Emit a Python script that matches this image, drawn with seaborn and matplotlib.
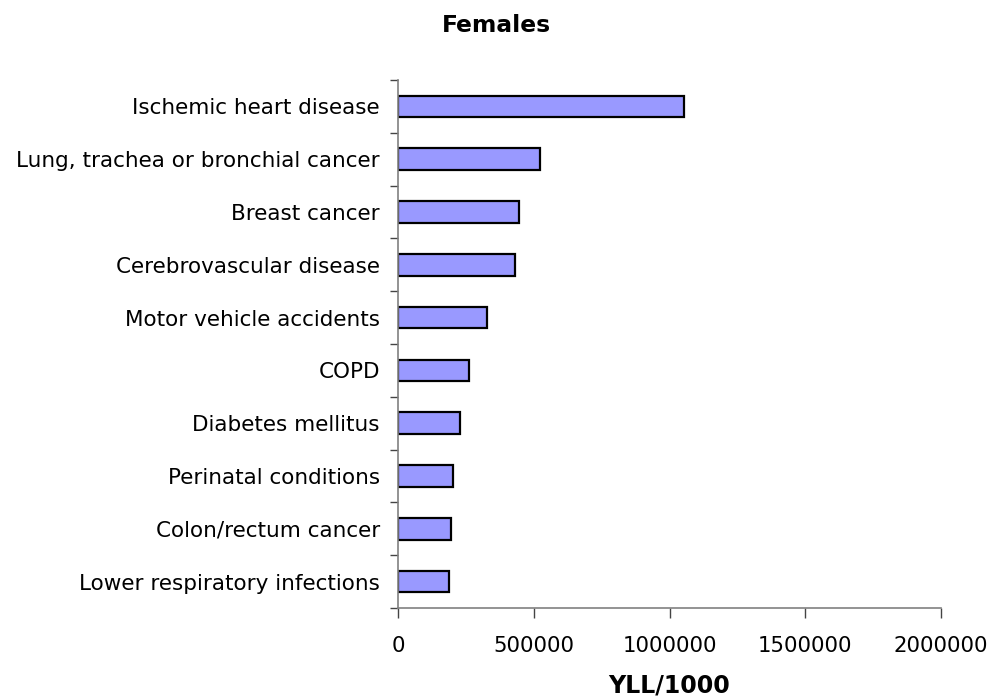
import matplotlib
matplotlib.use("Agg")
import matplotlib.pyplot as plt
import seaborn as sns
import pandas as pd
import numpy as np
from matplotlib.ticker import FixedLocator, NullFormatter

categories = [
    "Ischemic heart disease",
    "Lung, trachea or bronchial cancer",
    "Breast cancer",
    "Cerebrovascular disease",
    "Motor vehicle accidents",
    "COPD",
    "Diabetes mellitus",
    "Perinatal conditions",
    "Colon/rectum cancer",
    "Lower respiratory infections",
]
values = [1053000, 522000, 447000, 430000, 329000, 261000, 228000, 203000, 194000, 187000]
x_ticks = [0, 500000, 1000000, 1500000, 2000000]
x_tick_labels = ["0", "500000", "1000000", "1500000", "2000000"]

df = pd.DataFrame({"cause": categories, "yll": values})

sns.set_theme(style="white")
plt.rcParams["font.family"] = ["DejaVu Sans"]
plt.rcParams["text.color"] = "black"
plt.rcParams["xtick.color"] = "black"
plt.rcParams["ytick.color"] = "black"

fig = plt.figure(figsize=(9.92, 7.0), dpi=100)
ax = fig.add_axes([398/992, 1 - 608/700, 543/992, 528/700])

sns.barplot(data=df, x="yll", y="cause", orient="h", color="#9999FF",
            saturation=1, edgecolor="black", linewidth=1.6, width=0.41, ax=ax)

ax.set_xlim(0, 2000000)
ax.set_ylim(len(categories) - 0.5, -0.5)

ax.set_xticks(x_ticks)
ax.set_xticklabels(x_tick_labels, fontsize=15.3, color="black")

# boundary ticks (major, no labels) and centered labels (minor, no marks)
ax.yaxis.set_major_locator(FixedLocator(np.arange(-0.5, len(categories), 1.0)))
ax.yaxis.set_major_formatter(NullFormatter())
ax.yaxis.set_minor_locator(FixedLocator(np.arange(len(categories))))
ax.set_yticklabels(categories, minor=True, fontsize=15.5, color="black")
ax.tick_params(axis="y", which="major", length=6, width=1, color="#444444", left=True)
ax.tick_params(axis="y", which="minor", length=0, pad=13)
ax.tick_params(axis="x", which="major", length=7, width=1, color="#444444", bottom=True, pad=13)

for s in ["top", "right"]:
    ax.spines[s].set_visible(False)
for s in ["left", "bottom"]:
    ax.spines[s].set_color("#808080")
    ax.spines[s].set_linewidth(1.2)

ax.set_ylabel("")
ax.set_xlabel("YLL/1000", fontsize=17, fontweight="bold", labelpad=13, color="black")
fig.text(0.5, 1 - 26/700, "Females", ha="center", va="center", fontsize=16.8, fontweight="bold", color="black")

fig.savefig("out.png", dpi=100, facecolor="white")
